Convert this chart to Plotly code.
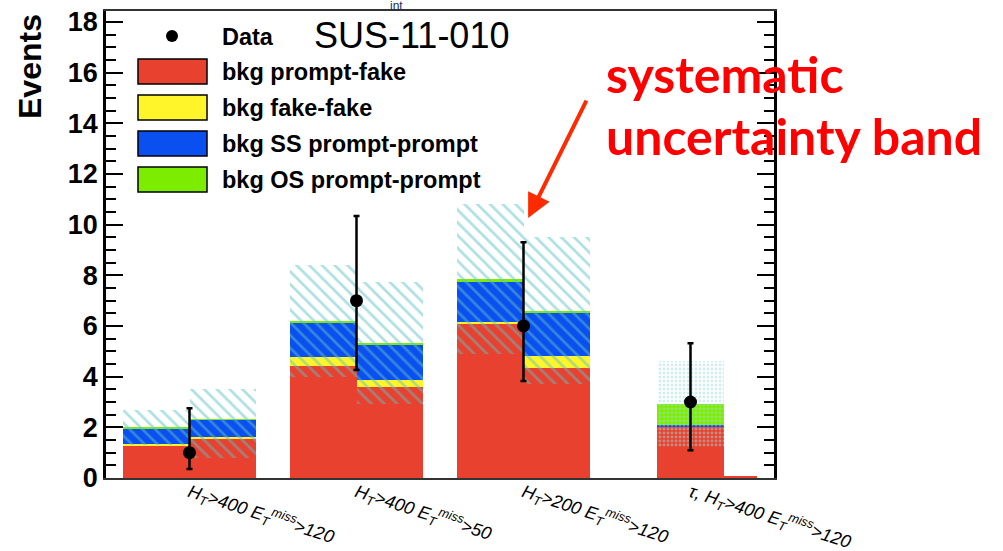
import plotly.graph_objects as go

# categories (x tick labels)
categories = [
    "<i>H<sub>T</sub>&gt;400 E<sub>T</sub><sup>miss</sup>&gt;120</i>",
    "<i>H<sub>T</sub>&gt;400 E<sub>T</sub><sup>miss</sup>&gt;50</i>",
    "<i>H<sub>T</sub>&gt;200 E<sub>T</sub><sup>miss</sup>&gt;120</i>",
    "<i>τ, H<sub>T</sub>&gt;400 E<sub>T</sub><sup>miss</sup>&gt;120</i>",
]

# two bins per category (left, right)
prompt_fake = [1.30, 1.57, 4.42, 3.61, 6.11, 4.33, 2.05, 0.05]
fake_fake = [0.05, 0.05, 0.37, 0.26, 0.05, 0.50, 0.00, 0.00]
ss_prompt_prompt = [0.61, 0.67, 1.34, 1.41, 1.59, 1.71, 0.06, 0.00]
os_prompt_prompt = [0.03, 0.03, 0.06, 0.04, 0.09, 0.05, 0.81, 0.00]

# systematic uncertainty band
band_low = [1.30, 0.80, 3.97, 2.91, 4.90, 3.70, 1.22, None]
band_high = [2.68, 3.50, 8.41, 7.73, 10.82, 9.53, 4.63, None]

# observed data
data_events = [1, 7, 6, 3]
data_err_up = [1.75, 3.34, 3.30, 2.32]
data_err_down = [0.64, 2.74, 2.17, 1.90]

y_ticks = [0, 2, 4, 6, 8, 10, 12, 14, 16, 18]

components = [
    ("bkg prompt-fake", prompt_fake, "#e8412f"),
    ("bkg fake-fake", fake_fake, "#fff52a"),
    ("bkg SS prompt-prompt", ss_prompt_prompt, "#0a4ff0"),
    ("bkg OS prompt-prompt", os_prompt_prompt, "#7ded00"),
]

# layout of the bins on the axis (unit = one bin width)
CAT_STEP = 2.5
centers = [CAT_STEP * (k + 0.5) for k in range(len(categories))]
offsets = [(-0.5, 1.0), (0.5, 1.0)] * 3 + [(0.0, 1.0), (0.75, 0.5)]
bin_x = [centers[i // 2] + offsets[i][0] for i in range(len(prompt_fake))]
bin_w = [o[1] for o in offsets]

PLOT_L, PLOT_R, PLOT_T, PLOT_B = 106, 774, 11, 478


def px(x):
    return (x - PLOT_L) / (PLOT_R - PLOT_L)


def py(y):
    return (PLOT_B - y) / (PLOT_B - PLOT_T)


fig = go.Figure()

base = [0.0] * len(prompt_fake)
for name, vals, color in components:
    fig.add_trace(
        go.Bar(
            x=bin_x, y=vals, base=base, width=bin_w, name=name,
            marker=dict(color=color, line=dict(width=0)),
            showlegend=False,
        )
    )
    base = [b + v for b, v in zip(base, vals)]

band_base = [lo if lo is not None else 0 for lo in band_low]
band_h = [
    (hi - lo) if lo is not None else 0 for lo, hi in zip(band_low, band_high)
]
shapes_pat = ["\\"] * 6 + [".", ""]
fig.add_trace(
    go.Bar(
        x=bin_x, y=band_h, base=band_base, width=bin_w,
        marker=dict(
            color="rgba(0,0,0,0)",
            line=dict(width=0),
            pattern=dict(
                shape=shapes_pat,
                fgcolor=["#5cc2c4"] * 6 + ["#a0dcdc", "#a0dcdc"],
                bgcolor="rgba(0,0,0,0)",
                size=[9] * 6 + [4, 4],
                solidity=[0.3] * 6 + [0.4, 0.4],
            ),
        ),
        showlegend=False,
    )
)

fig.add_trace(
    go.Scatter(
        x=centers, y=data_events, mode="markers", name="Data",
        marker=dict(color="black", size=13),
        error_y=dict(
            type="data", symmetric=False, array=data_err_up,
            arrayminus=data_err_down, color="black", thickness=2.5, width=3,
        ),
        showlegend=False,
    )
)

fig.update_layout(
    width=1003, height=551,
    margin=dict(l=PLOT_L, r=1003 - PLOT_R, t=PLOT_T, b=551 - PLOT_B),
    barmode="overlay", bargap=0,
    plot_bgcolor="white", paper_bgcolor="white",
    font=dict(family="Liberation Sans, Arial, sans-serif", color="black"),
)

fig.update_xaxes(
    range=[0, CAT_STEP * len(categories)],
    tickvals=centers, ticktext=categories, tickangle=18,
    tickfont=dict(size=18), ticks="", automargin=False,
    ticklabelstandoff=-5,
    showgrid=False, zeroline=False,
    showline=True, linecolor="#333333", linewidth=2, mirror=True,
    layer="below traces",
)
fig.update_yaxes(
    range=[0, 18.43], tickvals=y_ticks, automargin=False,
    tickfont=dict(size=27, weight="bold"),
    ticks="inside", ticklen=17, tickwidth=2, tickcolor="black",
    minor=dict(dtick=0.5, ticks="inside", ticklen=10, tickwidth=2, tickcolor="black"),
    showgrid=False, zeroline=False,
    showline=True, linecolor="black", linewidth=2.5, mirror="ticks",
)

shapes = []
annotations = []

# legend (drawn by hand to get ROOT-style boxes)
shapes.append(dict(
    type="circle", xref="paper", yref="paper",
    x0=px(166), x1=px(178), y0=py(42), y1=py(30),
    fillcolor="black", line=dict(color="black", width=0),
))
annotations.append(dict(
    text="<b>Data</b>", xref="paper", yref="paper", x=px(220), y=py(37),
    xanchor="left", yanchor="middle", showarrow=False, font=dict(size=23.5),
))
for i, (name, _, color) in enumerate(components):
    top = 59 + 36 * i
    shapes.append(dict(
        type="rect", xref="paper", yref="paper",
        x0=px(138), x1=px(207), y0=py(top + 25), y1=py(top),
        fillcolor=color, line=dict(color="black", width=1.5),
    ))
    annotations.append(dict(
        text=f"<b>{name}</b>", xref="paper", yref="paper", x=px(220),
        y=py(top + 13), xanchor="left", yanchor="middle", showarrow=False,
        font=dict(size=23.5),
    ))

annotations += [
    dict(text="<b>Events</b>", xref="paper", yref="paper", x=px(30), y=py(67),
         xanchor="center", yanchor="middle", textangle=-90, showarrow=False,
         font=dict(size=32)),
    dict(text="SUS-11-010", xref="paper", yref="paper", x=px(312), y=py(36),
         xanchor="left", yanchor="middle", showarrow=False, font=dict(size=36)),
    dict(text="int", xref="paper", yref="paper", x=px(388), y=py(6),
         xanchor="left", yanchor="middle", showarrow=False,
         font=dict(size=12, color="#1c2b5a")),
    dict(text="<b>systematic</b>", xref="paper", yref="paper", x=px(604),
         y=py(74), xanchor="left", yanchor="middle", showarrow=False,
         font=dict(family="Lato", size=50, color="#ff0000")),
    dict(text="<b>uncertainty band</b>", xref="paper", yref="paper", x=px(604),
         y=py(136), xanchor="left", yanchor="middle", showarrow=False,
         font=dict(family="Lato", size=50, color="#ff0000")),
    dict(text="", x=6.32, y=10.26, xref="x", yref="y", ax=59, ay=-119,
         showarrow=True, arrowhead=2, arrowsize=1.2, arrowwidth=4,
         arrowcolor="#ff2a00", standoff=0),
]

fig.update_layout(shapes=shapes, annotations=annotations)

# the page's default body margin would shift the figure by 8 px
fig.write_html(
    "out.html",
    config={"displayModeBar": False},
    post_script="document.body.style.margin = '0';",
)
